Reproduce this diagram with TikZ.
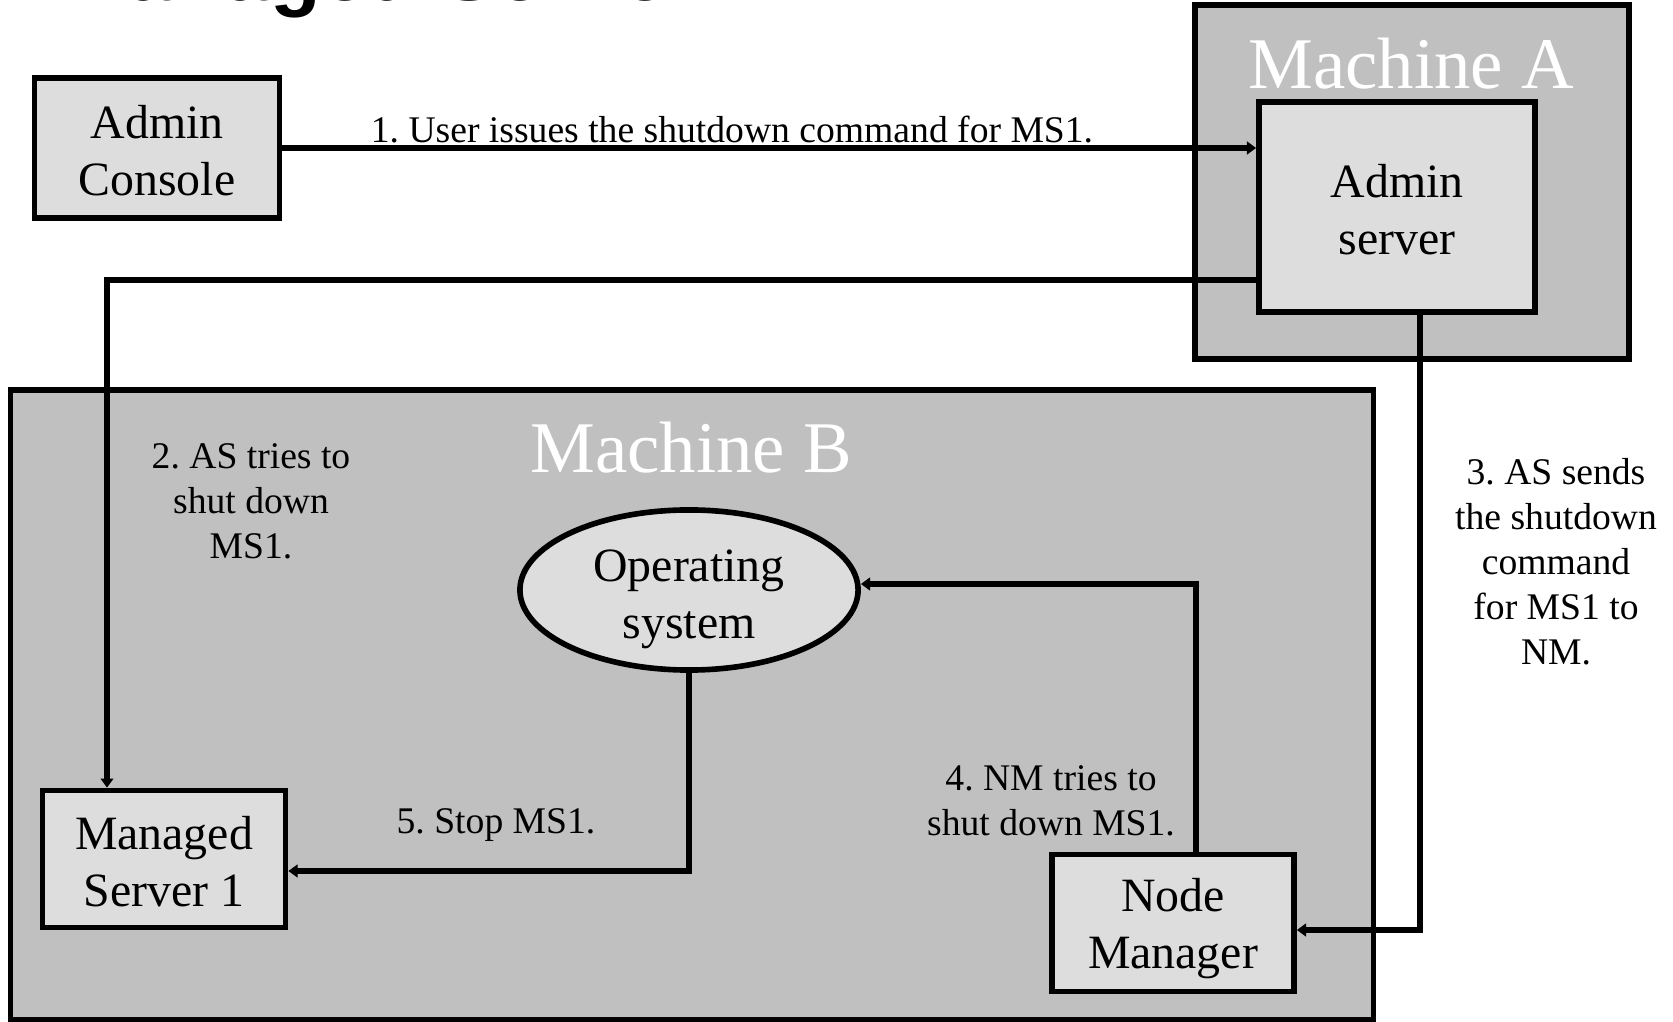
\documentclass[tikz,border=0pt]{standalone}
\usepackage{fontspec}
\setmainfont{Liberation Serif}
\setsansfont{Liberation Sans}
\usetikzlibrary{shapes.geometric, arrows.meta}
\frenchspacing

\definecolor{machfill}{HTML}{C0C0C0}
\definecolor{unitfill}{HTML}{DDDDDD}

\tikzset{
    machine/.style={draw, line width=1.6pt, fill=machfill},
    unit/.style={draw, line width=1.6pt, fill=unitfill, inner sep=0pt},
    boxtext/.style={align=center, inner sep=0pt, yshift=-0.03cm,
        font=\fontsize{13.6}{16.2}\selectfont},
    mtitle/.style={text=white, font=\fontsize{20.7}{24}\selectfont},
    lbl/.style={align=center, inner sep=0pt, font=\fontsize{10.7}{12.8}\selectfont},
    flow/.style={line width=1.6pt, -{Triangle[length=2.6pt, width=3.6pt]}}
}

\begin{document}
\begin{tikzpicture}[x=0.01cm, y=-0.01cm]
    \clip (0,0) rectangle (1673,1022);

    \node[anchor=base west, inner sep=0pt, font=\fontsize{23.6}{28}\selectfont\sffamily\bfseries] at (58,1) (head) {Managed Server};

    \node[machine, minimum width=4.34cm, minimum height=3.54cm] at (1412,182) (macha) {};
    \node[machine, minimum width=13.62cm, minimum height=6.30cm] at (692,705) (machb) {};
    \node[mtitle] at (1411,64)  (titlea) {Machine A};
    \node[mtitle] at (691,448)  (titleb) {Machine B};

    \node[unit, minimum width=2.45cm, minimum height=1.40cm,
        label={[boxtext]center:Admin\\Console}] at (157,148) (console) {};
    \node[unit, minimum width=2.76cm, minimum height=2.10cm,
        label={[boxtext]center:Admin\\server}] at (1397,207) (server) {};
    \node[unit, minimum width=2.43cm, minimum height=1.37cm,
        label={[boxtext]center:Managed\\Server 1}] at (164,859) (managed) {};
    \node[unit, minimum width=2.42cm, minimum height=1.37cm,
        label={[boxtext, yshift=-0.03cm]center:Node\\Manager}] at (1173,923) (nodemgr) {};
    \node[unit, ellipse, minimum width=3.38cm, minimum height=1.60cm,
        label={[boxtext, yshift=-0.06cm]center:Operating\\system}] at (689,590) (os) {};

    \coordinate (turn2) at (107,280);
    \coordinate (turn3) at (1420,930);
    \coordinate (turn4) at (1196,584);
    \coordinate (turn5) at (689,871);

    \draw[flow] (console.east) -- (console.east -| server.west);
    \draw[flow] (server.west |- turn2) -- (turn2) -- (turn2 |- managed.north);
    \draw[flow] (turn3 |- server.south) -- (turn3) -- (turn3 -| nodemgr.east);
    \draw[flow] (turn4 |- nodemgr.north) -- (turn4) -- (turn4 -| os.east);
    \draw[flow] (os.south) -- (turn5) -- (turn5 -| managed.east);

    \node[lbl] at (732,130)  (step1) {1. User issues the shutdown command for MS1.};
    \node[lbl] at (251,501)  (step2) {2. AS tries to\\shut down\\MS1.};
    \node[lbl] at (1556,562) (step3) {3. AS sends\\the shutdown\\command\\for MS1 to\\NM.};
    \node[lbl] at (1051,801) (step4) {4. NM tries to\\shut down MS1.};
    \node[lbl] at (496,825)  (step5) {5. Stop MS1.};
\end{tikzpicture}
\end{document}
